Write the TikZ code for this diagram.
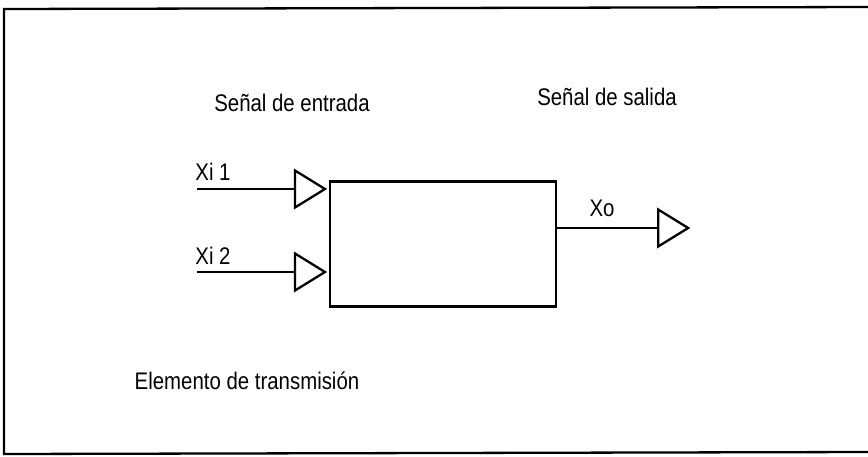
\documentclass[tikz,border=0pt]{standalone}
\usepackage{fontspec}
\setmainfont[FakeStretch=0.85]{Liberation Sans}
\usetikzlibrary{shapes.geometric}

\begin{document}
\begin{tikzpicture}[x=1pt,y=-1pt,line width=2.3pt]
            \useasboundingbox (0,0) rectangle (868,456);
            \draw (868,7) -- (4,9) -- (4,454) -- (868,452);

            \node [font=\fontsize{24}{28}\selectfont] (L1) at (292,103) {Señal de entrada};
            \node [font=\fontsize{24}{28}\selectfont] (L2) at (607,97) {Señal de salida};
            \node [font=\fontsize{24}{28}\selectfont] (L3) at (247,381) {Elemento de transmisión};

            \node [style={draw,rectangle,minimum width=226pt,minimum height=125pt,inner sep=0pt}] (E) at (443,244) {};

            \node [style={draw,isosceles triangle,isosceles triangle stretches,minimum height=30pt,minimum width=37pt,inner sep=0pt,anchor=apex}] (T1) at (328,189) {};
            \node [style={draw,isosceles triangle,isosceles triangle stretches,minimum height=30pt,minimum width=37pt,inner sep=0pt,anchor=apex}] (T2) at (328,272) {};
            \node [style={draw,isosceles triangle,isosceles triangle stretches,minimum height=30pt,minimum width=37pt,inner sep=0pt,anchor=west}] (T3) at (657,228) {};

            \coordinate (I1) at (197,189);
            \coordinate (I2) at (197,272);
            \node [font=\fontsize{24}{28}\selectfont] (X1) at (213,172) {Xi 1};
            \node [font=\fontsize{24}{28}\selectfont] (X2) at (213,256) {Xi 2};
            \node [font=\fontsize{24}{28}\selectfont] (X0) at (602,208) {Xo};

            \draw (I1) -- (T1.west);
            \draw (I2) -- (T2.west);
            \draw (E.east |- T3.west) -- (T3.west);
        \end{tikzpicture}
\end{document}
